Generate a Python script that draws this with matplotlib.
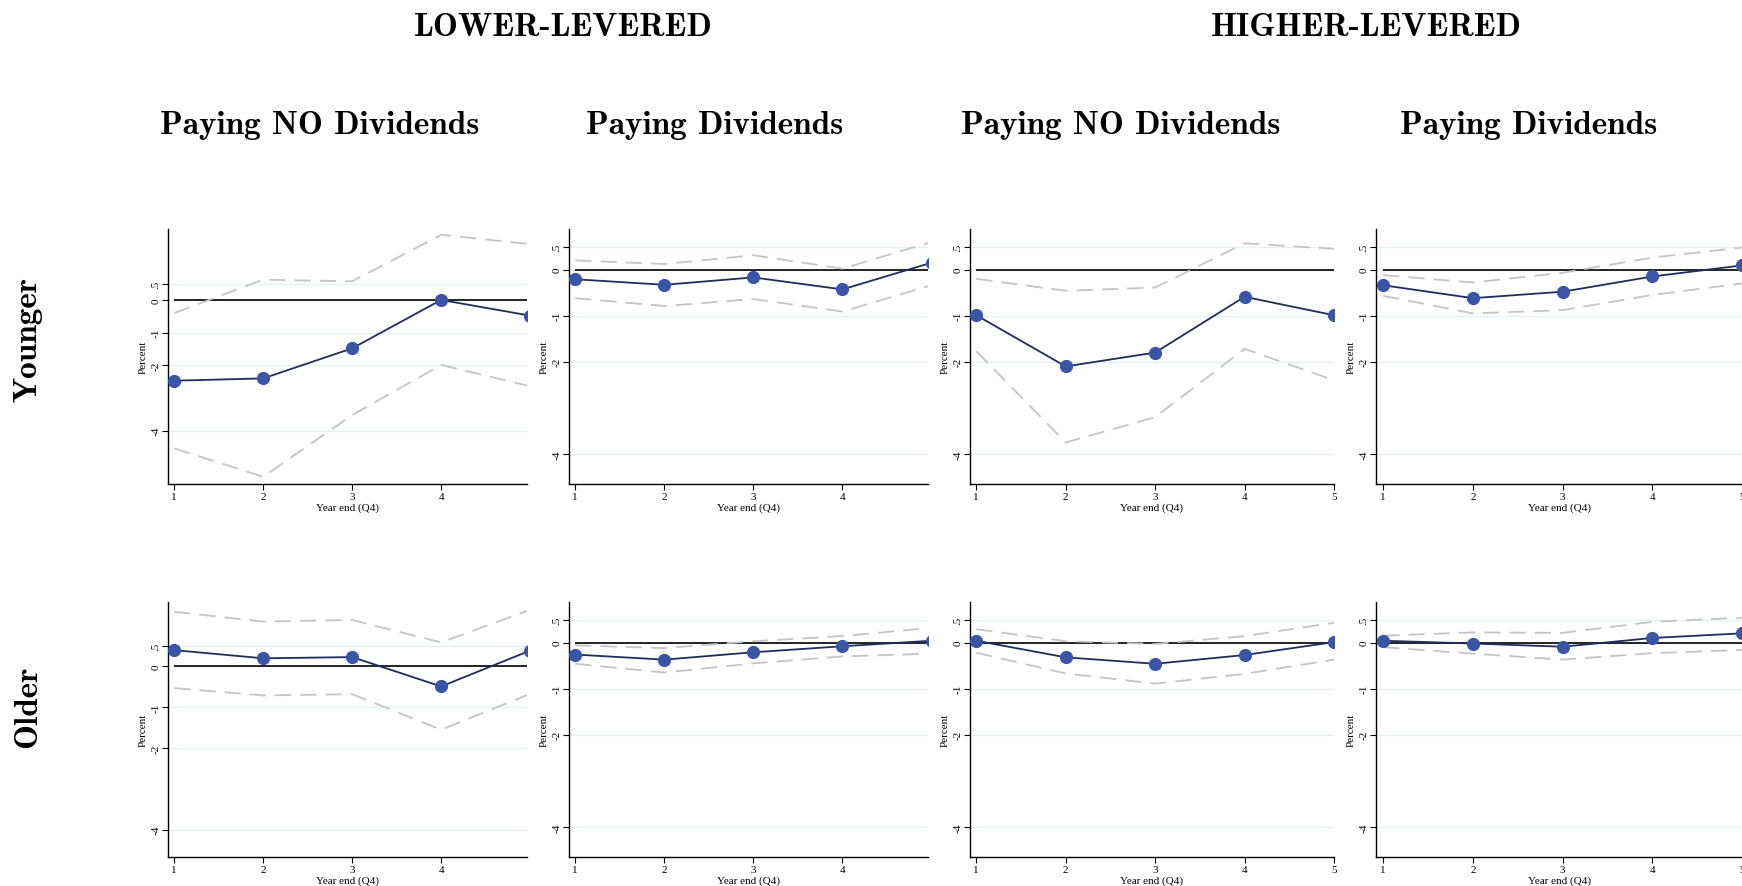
import matplotlib
matplotlib.use("Agg")
import matplotlib.pyplot as plt

# event-time axis
years = [1, 2, 3, 4, 5]
ytick_vals = [-4, -2, -1, 0, 0.5]
ytick_labels = ["-4", "-2", "-1", "0", ".5"]

col_titles = ["Paying NO Dividends", "Paying Dividends",
              "Paying NO Dividends", "Paying Dividends"]
group_titles = ["LOWER-LEVERED", "HIGHER-LEVERED"]
row_titles = ["Younger", "Older"]

# Younger firms
yng_low_nodiv_est = [-2.47, -2.40, -1.48, 0.00, -0.48]
yng_low_nodiv_hi = [-0.40, 0.62, 0.57, 1.99, 1.71]
yng_low_nodiv_lo = [-4.54, -5.41, -3.52, -1.99, -2.64]

yng_low_div_est = [-0.21, -0.33, -0.17, -0.43, 0.15]
yng_low_div_hi = [0.20, 0.12, 0.31, 0.02, 0.60]
yng_low_div_lo = [-0.62, -0.79, -0.64, -0.91, -0.34]

yng_high_nodiv_est = [-0.99, -2.10, -1.80, -0.59, -0.99]
yng_high_nodiv_hi = [-0.20, -0.46, -0.39, 0.57, 0.45]
yng_high_nodiv_lo = [-1.77, -3.75, -3.20, -1.72, -2.40]

yng_high_div_est = [-0.34, -0.62, -0.48, -0.15, 0.09]
yng_high_div_hi = [-0.12, -0.28, -0.07, 0.26, 0.48]
yng_high_div_lo = [-0.57, -0.95, -0.88, -0.55, -0.30]

# Older firms
old_low_nodiv_est = [0.40, 0.20, 0.23, -0.49, 0.39]
old_low_nodiv_hi = [1.34, 1.10, 1.14, 0.59, 1.39]
old_low_nodiv_lo = [-0.53, -0.71, -0.68, -1.55, -0.67]

old_low_div_est = [-0.26, -0.37, -0.21, -0.08, 0.04]
old_low_div_hi = [-0.06, -0.12, 0.03, 0.14, 0.32]
old_low_div_lo = [-0.46, -0.65, -0.45, -0.30, -0.24]

old_high_nodiv_est = [0.04, -0.32, -0.46, -0.27, 0.01]
old_high_nodiv_hi = [0.29, 0.03, -0.03, 0.14, 0.43]
old_high_nodiv_lo = [-0.22, -0.67, -0.89, -0.68, -0.37]

old_high_div_est = [0.04, -0.02, -0.09, 0.10, 0.20]
old_high_div_hi = [0.15, 0.22, 0.21, 0.45, 0.54]
old_high_div_lo = [-0.10, -0.24, -0.37, -0.23, -0.16]

panels = [
    [(yng_low_nodiv_est, yng_low_nodiv_hi, yng_low_nodiv_lo),
     (yng_low_div_est, yng_low_div_hi, yng_low_div_lo),
     (yng_high_nodiv_est, yng_high_nodiv_hi, yng_high_nodiv_lo),
     (yng_high_div_est, yng_high_div_hi, yng_high_div_lo)],
    [(old_low_nodiv_est, old_low_nodiv_hi, old_low_nodiv_lo),
     (old_low_div_est, old_low_div_hi, old_low_div_lo),
     (old_high_nodiv_est, old_high_nodiv_hi, old_high_nodiv_lo),
     (old_high_div_est, old_high_div_hi, old_high_div_lo)],
]

W, H = 1742, 887
# pixel boxes of the plot areas (left, right), (top, bottom)
col_px = [(168, 527), (569, 928), (970, 1334), (1376, 1742)]
row_px = [(230, 485), (603, 858)]
xlims = [(0.93, 4.965), (0.93, 4.96), (0.93, 5.0), (0.92, 5.0)]
ylims = {(0, 0): (-5.63, 2.17), (1, 0): (-4.67, 1.58)}

title_font = "cmb10"
tick_font = "Liberation Serif"

fig = plt.figure(figsize=(W / 100, H / 100), dpi=100)

for r in range(2):
    for c in range(4):
        x0, x1 = col_px[c]
        y0, y1 = row_px[r]
        ax = fig.add_axes([x0 / W, 1 - y1 / H, (x1 - x0) / W, (y1 - y0) / H])
        est, hi, lo = panels[r][c]

        for v in ytick_vals:
            ax.axhline(v, color="#e6eff1", lw=0.9, zorder=0)
        ax.hlines(0, years[0], years[-1], color="black", lw=1.2, zorder=1)
        ax.plot(years, hi, color="#c4c4c4", lw=1.3, dashes=(9, 5), zorder=2)
        ax.plot(years, lo, color="#c4c4c4", lw=1.3, dashes=(9, 5), zorder=2)
        ax.plot(years, est, color="#1f2d5a", lw=1.3, marker="o",
                markersize=8.5, markerfacecolor="#3a55a6",
                markeredgecolor="#3a55a6", zorder=3)

        ax.set_xlim(*xlims[c])
        ax.set_ylim(*ylims.get((r, c), (-4.65, 0.88)))
        shown = [y for y in years if y <= xlims[c][1]]
        ax.set_xticks(shown)
        ax.set_xticklabels([str(y) for y in shown], fontfamily=tick_font, fontsize=8)
        ax.set_yticks(ytick_vals)
        ax.set_yticklabels(ytick_labels, fontfamily=tick_font, fontsize=8,
                           rotation=90, va="center")
        ax.tick_params(direction="out", length=4, width=0.8, pad=1.5)
        ax.set_xlabel("Year end (Q4)", fontfamily=tick_font, fontsize=8, labelpad=1.5)
        ax.set_ylabel("Percent", fontfamily=tick_font, fontsize=8, labelpad=3)
        for s in ["top", "right"]:
            ax.spines[s].set_visible(False)
        for s in ["left", "bottom"]:
            ax.spines[s].set_linewidth(1.0)
        ax.patch.set_alpha(0)

# column and group headings
col_centers = [320, 715, 1121, 1529]
for cx, t in zip(col_centers, col_titles):
    fig.text(cx / W, 1 - 126 / H, t, fontfamily=title_font, fontsize=24,
             ha="center", va="center")
for cx, t in zip([563, 1366], group_titles):
    fig.text(cx / W, 1 - 27 / H, t, fontfamily=title_font, fontsize=24,
             ha="center", va="center")
for cy, t in zip([339, 707], row_titles):
    fig.text(28 / W, 1 - cy / H, t, fontfamily=title_font, fontsize=24,
             ha="center", va="center", rotation=90)

fig.savefig("out.png", dpi=100)
